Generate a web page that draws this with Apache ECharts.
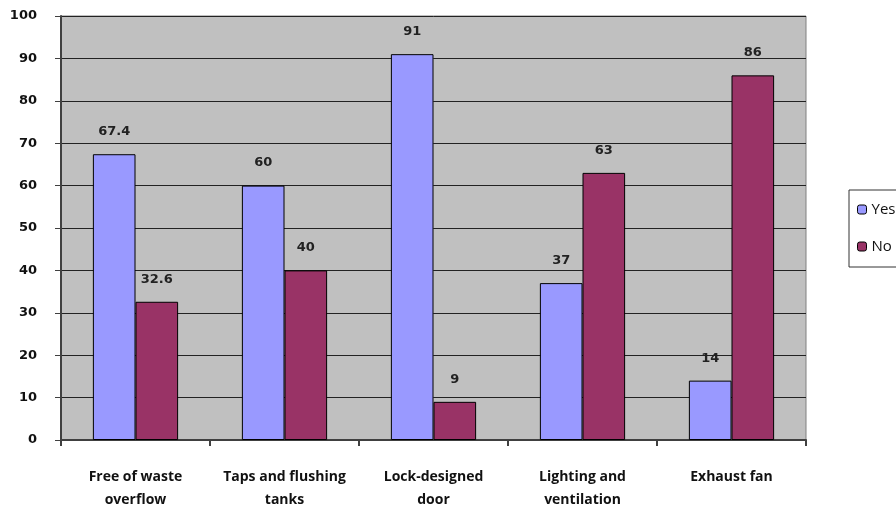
<!DOCTYPE html>
<html>
<head>
<meta charset="utf-8">
<script src="https://cdn.jsdelivr.net/npm/echarts@6/dist/echarts.min.js"></script>
<style>
  html, body { margin: 0; padding: 0; background: #fff; }
  #chart { width: 896px; height: 507px; }
</style>
</head>
<body>
<div id="chart"></div>
<script>
// Facility conditions: share of "Yes" / "No" answers per item (%)
const categories = [
  'Free of waste\noverflow',
  'Taps and flushing\ntanks',
  'Lock-designed\ndoor',
  'Lighting and\nventilation',
  'Exhaust fan'
];
const yesValues = [67.4, 60, 91, 37, 14];
const noValues = [32.6, 40, 9, 63, 86];
const yTicks = { min: 0, max: 100, interval: 10 };

const chart = echarts.init(document.getElementById('chart'), null, { renderer: 'canvas' });

const labelStyle = {
  show: true,
  position: 'top',
  distance: 16,
  fontFamily: 'DejaVu Sans',
  fontWeight: 'bold',
  fontSize: 13,
  color: '#222'
};

chart.setOption({
  animation: false,
  backgroundColor: '#ffffff',
  grid: {
    left: 61, right: 90, top: 16, bottom: 67,
    containLabel: false,
    outerBoundsMode: 'none',
    show: true,
    backgroundColor: '#c0c0c0',
    borderColor: '#808080',
    borderWidth: 1
  },
  legend: {
    orient: 'vertical',
    left: 849,
    top: 190,
    width: 80,
    padding: [12, 20, 13, 8],
    itemGap: 22,
    itemWidth: 9,
    itemHeight: 9,
    borderColor: '#333',
    borderWidth: 1,
    backgroundColor: '#fff',
    textStyle: { fontFamily: 'Open Sans', fontSize: 15, color: '#111' },
    itemStyle: { borderColor: '#000', borderWidth: 1 },
    data: ['Yes', 'No']
  },
  xAxis: {
    type: 'category',
    data: categories,
    boundaryGap: true,
    axisLine: { lineStyle: { color: '#404040', width: 2 } },
    axisTick: { show: true, length: 6, alignWithLabel: false, lineStyle: { color: '#404040', width: 2 } },
    axisLabel: {
      margin: 26,
      interval: 0,
      fontFamily: 'Open Sans',
      fontWeight: 'bold',
      fontSize: 14,
      lineHeight: 23,
      color: '#111'
    },
    splitLine: { show: false }
  },
  yAxis: {
    type: 'value',
    min: yTicks.min,
    max: yTicks.max,
    interval: yTicks.interval,
    axisLine: { show: true, lineStyle: { color: '#404040', width: 2 } },
    axisTick: { show: true, length: 6, lineStyle: { color: '#404040', width: 1 } },
    axisLabel: {
      margin: 24,
      fontFamily: 'DejaVu Sans',
      fontWeight: 'bold',
      fontSize: 13,
      color: '#111'
    },
    splitLine: { show: true, lineStyle: { color: '#222', width: 1 } }
  },
  series: [
    {
      name: 'Yes',
      type: 'bar',
      data: yesValues,
      barWidth: '28.6%',
      barGap: '0%',
      itemStyle: { color: '#9999ff', borderColor: '#000', borderWidth: 1 },
      label: labelStyle
    },
    {
      name: 'No',
      type: 'bar',
      data: noValues,
      barWidth: '28.6%',
      barGap: '0%',
      itemStyle: { color: '#993366', borderColor: '#000', borderWidth: 1 },
      label: labelStyle
    }
  ]
});
</script>
</body>
</html>
